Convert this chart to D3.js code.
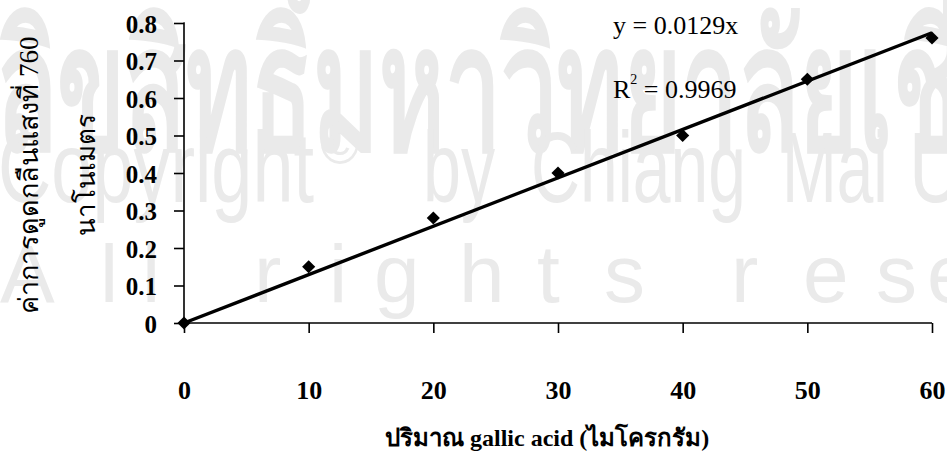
<!DOCTYPE html>
<html>
<head>
<meta charset="utf-8">
<script src="https://cdn.jsdelivr.net/npm/d3@7"></script>
<style>
  html, body { margin: 0; padding: 0; background: #fff; }
  svg { display: block; }
  .tick text { font-family: "Liberation Serif", "Times New Roman", serif; font-weight: bold; }
</style>
</head>
<body>
<svg id="chart" width="947" height="453"></svg>
<script>
// Standard curve: gallic acid amount (µg) vs absorbance at 760 nm
const amounts = [0, 10, 20, 30, 40, 50, 60];
const absorbance = [0, 0.15, 0.28, 0.40, 0.50, 0.65, 0.76];
const slope = 0.0129;
const rSquared = 0.9969;
const xTicks = [0, 10, 20, 30, 40, 50, 60];
const yTicks = [0, 0.1, 0.2, 0.3, 0.4, 0.5, 0.6, 0.7, 0.8];
const yTitleLines = ["ค่าการดูดกลืนแสงที่ 760", "นาโนเมตร"];
const xTitle = "ปริมาณ gallic acid (ไมโครกรัม)";
const wmThai = "ลิขสิทธิ์มหาวิทยาลัยเชียงใหม่";
const wmWords = ["Copyright", "©", "by", "Chiang", "Mai", "University"];
const wmRights = "All rights reserved";

const svg = d3.select("#chart");
const W = 947, H = 453;
const margin = { left: 184, right: 15, top: 23, bottom: 130 };
const serif = "'Liberation Serif', 'Times New Roman', serif";
const narrow = "'Liberation Sans Narrow', 'Liberation Sans', sans-serif";

svg.append("rect").attr("width", W).attr("height", H).attr("fill", "#fff");

// ---- Background watermark ----
const wm = svg.append("g").attr("fill", "#eaeaea");

wm.append("text")
  .attr("transform", "translate(-4,150) scale(1,1.75)")
  .attr("font-size", 100).attr("font-weight", "bold")
  .text(wmThai);

// word placement along the copyright line: [x, width]
const wordBox = [[-2, 316], [320, 0], [423, 72], [531, 215], [782, 106], [909, 330]];
wm.append("g").attr("transform", "translate(0,202) scale(1,1.12)")
  .selectAll("text").data(wmWords).join("text")
  .attr("x", (d, i) => wordBox[i][0])
  .attr("y", d => d === "©" ? -34 : 0)
  .attr("font-family", narrow)
  .attr("font-size", d => d === "©" ? 54 : 89)
  .each(function (d, i) {
    if (wordBox[i][1] > 0) {
      d3.select(this).attr("textLength", wordBox[i][1]).attr("lengthAdjust", "spacingAndGlyphs");
    }
  })
  .text(d => d);

const rightsX = [0, 100, 142, 200, 254, 329, 374, 459, 537, 604, 680, 731, 803, 876, 927, 1000, 1070, 1140, 1210];
wm.append("text").attr("y", 302)
  .attr("font-family", narrow).attr("font-size", 82)
  .attr("x", rightsX.join(" "))
  .text(wmRights);

// ---- Scales ----
const x = d3.scaleLinear().domain([0, 60]).range([margin.left, W - margin.right]);
const y = d3.scaleLinear().domain([0, 0.8]).range([H - margin.bottom, margin.top]);

// Y axis
const yAxis = svg.append("g")
  .attr("transform", `translate(${margin.left},0)`)
  .call(d3.axisLeft(y).tickValues(yTicks).tickSize(10).tickPadding(17)
    .tickFormat(d => d === 0 ? "0" : d3.format(".1f")(d)));
yAxis.selectAll("text").attr("font-size", 25).attr("fill", "#000").attr("dy", "0.36em");
yAxis.selectAll("line, path").attr("stroke", "#000").attr("stroke-width", 1.6);
yAxis.select(".domain").attr("d", `M-0.5,${y(0.8)}H0V${y(0)}`);

// X axis
const xAxis = svg.append("g")
  .attr("transform", `translate(0,${y(0)})`)
  .call(d3.axisBottom(x).tickValues(xTicks).tickSize(10).tickPadding(48)
    .tickFormat(d3.format("d")));
xAxis.selectAll("text").attr("font-size", 26).attr("fill", "#000");
xAxis.selectAll("line, path").attr("stroke", "#000").attr("stroke-width", 1.6);
xAxis.select(".domain").attr("d", `M${x(0)},0H${x(60)}`);

// Linear trend line through the origin
const trend = d3.line().x(d => x(d)).y(d => y(slope * d));
svg.append("path")
  .datum([0, 60])
  .attr("d", trend)
  .attr("fill", "none")
  .attr("stroke", "#000")
  .attr("stroke-width", 3.4);

// Measured points
svg.append("g").selectAll("path")
  .data(amounts.map((a, i) => [a, absorbance[i]]))
  .join("path")
  .attr("transform", d => `translate(${x(d[0])},${y(d[1])})`)
  .attr("d", d3.symbol(d3.symbolDiamond2, 110)())
  .attr("fill", "#000");

// Regression annotation
svg.append("text").attr("x", 613).attr("y", 34)
  .attr("font-family", serif).attr("font-size", 26)
  .text(`y = ${slope}x`);
const r2 = svg.append("text").attr("x", 613).attr("y", 98)
  .attr("font-family", serif).attr("font-size", 26);
r2.append("tspan").text("R");
r2.append("tspan").attr("font-size", 14).attr("dy", -14).text("2");
r2.append("tspan").attr("dy", 14).text(` = ${rSquared}`);

// Axis titles
svg.append("text")
  .attr("x", 385).attr("y", 446)
  .attr("font-family", serif).attr("font-size", 24).attr("font-weight", "bold")
  .text(xTitle);

svg.append("text")
  .attr("text-anchor", "middle")
  .attr("font-size", 27)
  .attr("transform", "translate(38,175) rotate(-90)")
  .text(yTitleLines[0]);
svg.append("text")
  .attr("text-anchor", "middle")
  .attr("font-size", 26)
  .attr("transform", "translate(95,175) rotate(-90)")
  .text(yTitleLines[1]);
</script>
</body>
</html>
